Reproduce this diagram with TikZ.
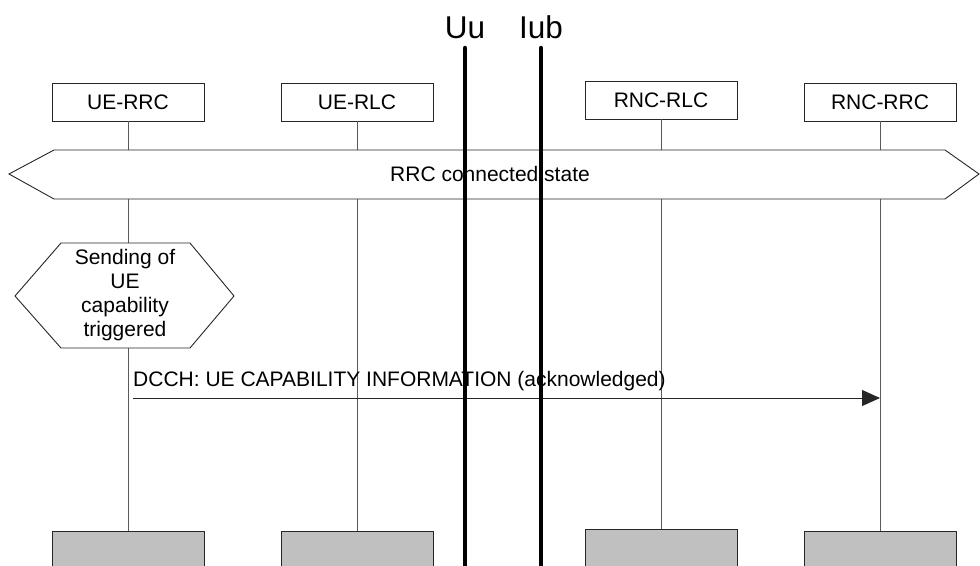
\documentclass[tikz,border=0pt]{standalone}
\usepackage{fontspec}
\setmainfont{Liberation Sans}
\usetikzlibrary{arrows.meta}
\definecolor{lifegray}{RGB}{90,90,90}
\definecolor{boxgray}{RGB}{192,192,192}
\begin{document}
\begin{tikzpicture}[x=1pt,y=-1pt,
  every node/.style={font=\fontsize{21}{24}\selectfont},
  entity/.style={draw=black!85,line width=0.9pt,fill=white,minimum width=152pt,minimum height=38pt,inner sep=0pt},
  endbox/.style={draw=black!85,line width=0.9pt,fill=boxgray,minimum width=152pt,minimum height=50pt,inner sep=0pt,anchor=north},
  life/.style={draw=lifegray,line width=0.9pt},
  iface/.style={line width=4.5pt,line cap=round},
  msg/.style={draw=black!85,line width=0.9pt,-{Triangle[length=18pt,width=16pt]}}
]
\useasboundingbox (0,0) rectangle (980,565);
% top entity boxes
\node[entity] (uerrc) at (128,102) {UE-RRC};
\node[entity] (uerlc) at (357,102) {UE-RLC};
\node[entity] (rncrlc) at (661,100) {RNC-RLC};
\node[entity] (rncrrc) at (880,102) {RNC-RRC};
% bottom boxes
\node[endbox] (b1) at (128,531) {};
\node[endbox] (b2) at (357,531) {};
\node[endbox] (b3) at (661,529) {};
\node[endbox] (b4) at (880,531) {};
% lifelines
\draw[life] (uerrc.south) -- (b1.north);
\draw[life] (uerlc.south) -- (b2.north);
\draw[life] (rncrlc.south) -- (b3.north);
\draw[life] (rncrrc.south) -- (b4.north);
% banner
\draw[black!85,line width=0.9pt,fill=white] (9,174) -- (54,150) -- (945,150) -- (979,174) -- (945,199) -- (54,199) -- cycle;
\node (state) at (490,174) {RRC connected state};
% hexagon
\draw[black!85,line width=0.9pt,fill=white] (15,296) -- (61,243) -- (190,243) -- (234,296) -- (190,348) -- (61,348) -- cycle;
\node[align=center,inner sep=0pt] (trig) at (125,295) {Sending of\\UE\\capability\\triggered};
% message
\coordinate (ms) at (133,398);
\coordinate (me) at (880,398);
\draw[msg] (ms) -- (me);
\node[anchor=base west,inner sep=0pt] (mlabel) at (133,386) {DCCH: UE CAPABILITY INFORMATION (acknowledged)};
% interfaces
\node[font=\fontsize{31.5}{34}\selectfont,anchor=base] (uu) at (465,38) {Uu};
\node[font=\fontsize{31.5}{34}\selectfont,anchor=base] (iub) at (541,38) {Iub};
\coordinate (uub) at (465,570);
\coordinate (iubb) at (541,570);
\draw[iface] (465,48) -- (uub);
\draw[iface] (541,48) -- (iubb);
\end{tikzpicture}
\end{document}
